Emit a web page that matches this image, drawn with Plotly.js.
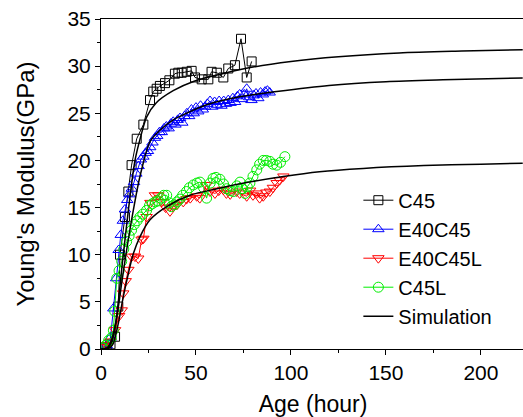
<!DOCTYPE html>
<html>
<head>
<meta charset="utf-8">
<script src="https://cdn.plot.ly/plotly-3.0.1.min.js"></script>
<style>
html,body{margin:0;padding:0;overflow:hidden;background:#fff;}
#chart{width:530px;height:417px;}
</style>
</head>
<body>
<div id="chart"></div>
<script>
// ---- data ----
const c45_t = [1, 3, 5, 7.4, 9.1, 10, 12.6, 14.4, 16.1, 18.8, 22.3, 25.8, 27.5, 29.3, 31, 33.7, 36, 38.9, 40.7, 42.5, 45.1, 47.7, 49.5, 53, 56.5, 58.2, 61, 64.4, 67, 70.5, 73.7, 76.7, 79.3];
const c45_E = [0.1, 0.2, 0.5, 1.3, 4.5, 10.0, 14.0, 16.7, 19.5, 22.3, 23.8, 26.4, 27.3, 27.6, 27.9, 28.2, 28.5, 29.2, 29.3, 29.3, 29.4, 29.5, 28.8, 28.6, 28.6, 29.4, 29.3, 28.8, 29.75, 30.1, 32.9, 28.8, 30.5];

const e40c45_t = [1, 3, 5, 6.5, 8, 9.3, 10.4, 11.5, 12.6, 13.8, 15, 16.2, 17.4, 18.6, 19.8, 21, 22.3, 23.5, 24.7, 25.9, 27.1, 28.4, 29.6, 30.8, 32, 33.2, 34.4, 35.6, 36.8, 38, 39.2, 40.4, 41.6, 42.8, 44, 45.2, 46.4, 47.6, 48.8, 50, 51.2, 52.4, 53.6, 54.8, 56, 57.4, 58.6, 59.8, 61, 62.2, 63.4, 64.6, 65.8, 67, 68.2, 69.4, 70.6, 71.8, 73, 74.2, 75.4, 76.7, 78, 79.2, 80.4, 81.6, 82.8, 84, 85.2, 86.4, 87.6, 88.8];
const e40c45_E = [0.1, 0.4, 1.2, 4.3, 7.5, 10.5, 12.1, 13.6, 14.8, 15.8, 16.4, 17.0, 17.7, 18.6, 19.4, 20.1, 20.4, 20.8, 21.0, 21.4, 21.9, 22.4, 22.6, 23.0, 23.0, 23.4, 23.6, 23.4, 23.9, 24.1, 23.8, 24.3, 24.5, 24.0, 24.7, 25.0, 24.7, 25.4, 25.0, 25.6, 25.2, 25.8, 25.4, 25.7, 26.0, 26.3, 25.7, 26.2, 25.9, 26.3, 25.8, 26.3, 26.0, 26.4, 26.1, 26.6, 26.2, 26.8, 27.0, 26.5, 27.0, 27.6, 26.7, 26.4, 26.9, 27.1, 26.6, 27.2, 27.0, 27.3, 27.4, 27.2];

const e40c45l_t = [1, 3, 5, 7.4, 9.5, 10.9, 11.7, 13, 14.4, 16.1, 17.9, 19.6, 21.4, 22.3, 24, 26, 28.4, 30.2, 32, 34, 36.3, 38, 40, 43.3, 45, 47, 50.4, 52, 55.6, 57.4, 60, 62, 64.4, 66, 68, 71.4, 73, 76.7, 78.5, 80, 81.9, 83.5, 85.4, 87, 88.9, 90.5, 92.5, 94, 96];
const e40c45l_E = [0.2, 0.4, 0.8, 2.0, 3.5, 4.1, 5.9, 7.2, 8.4, 9.8, 9.8, 9.6, 11.6, 11.7, 14.0, 15.5, 16.3, 16.3, 15.6, 15.0, 14.6, 15.1, 15.3, 15.6, 15.9, 16.0, 16.2, 16.0, 17.4, 16.7, 16.5, 16.8, 16.9, 16.5, 16.4, 16.7, 16.5, 16.2, 16.8, 16.3, 16.5, 16.0, 16.2, 16.6, 16.7, 17.1, 17.6, 17.9, 18.3];

const c45l_t = [1, 2.5, 4, 5.5, 6.5, 7.2, 8.3, 9.5, 10.9, 12, 13.5, 14.8, 16.1, 17.5, 19, 20.5, 22, 24, 25.5, 27, 28.5, 30, 31.5, 33, 34.6, 36, 37, 38.5, 40, 41.5, 43, 45, 46.5, 48.6, 50.5, 52.1, 54, 55.6, 57.5, 59, 60.5, 62.6, 64.5, 66.1, 68, 69.6, 71.5, 73.2, 74.5, 75.8, 77, 78.4, 80, 82, 83.5, 85.4, 87, 88.9, 90.5, 92.5, 94.5, 96.8];
const c45l_E = [0.1, 0.4, 0.9, 1.2, 2.0, 4.0, 7.5, 8.3, 9.3, 10.6, 11.4, 12.0, 12.6, 13.2, 13.6, 14.0, 14.3, 14.7, 15.2, 15.4, 15.6, 15.7, 16.0, 16.3, 16.3, 15.5, 15.1, 15.3, 15.6, 15.9, 16.3, 16.7, 17.1, 17.4, 17.6, 17.7, 17.1, 16.0, 17.6, 18.1, 18.2, 18.0, 17.5, 17.0, 16.8, 16.7, 17.3, 17.7, 17.0, 16.5, 17.2, 17.6, 18.3, 19.0, 19.6, 20.0, 20.0, 19.9, 19.6, 19.5, 19.8, 20.4];

const sim1_t = [0, 2, 4, 6.5, 8.6, 11.4, 14.4, 17.9, 21, 24, 29, 38, 49, 64, 80, 100, 125, 157, 190, 222];
const sim1_E = [0, 0.02, 0.2, 1.3, 4.1, 9.4, 14.7, 20.0, 22.6, 24.6, 26.1, 27.4, 28.4, 29.2, 29.9, 30.5, 31.0, 31.4, 31.6, 31.75];
const sim2_t = [0, 3, 5.6, 8.3, 10.9, 13.5, 17, 20.5, 25.8, 31, 38, 45, 55.6, 73, 92.5, 120, 150, 180, 222];
const sim2_E = [0, 0.05, 1.0, 3.4, 7.0, 10.5, 14.7, 18.3, 22.0, 23.2, 24.3, 25.0, 25.9, 26.75, 27.3, 27.95, 28.35, 28.55, 28.75];
const sim3_t = [0, 3, 5, 6.5, 9.1, 11.7, 14.4, 17, 20.5, 25.8, 34.6, 46.8, 61, 78, 96, 115, 138, 170, 200, 222];
const sim3_E = [0, 0, 0.2, 0.6, 2.7, 5.5, 8.0, 10.1, 11.9, 13.7, 15.1, 16.3, 17.0, 17.7, 18.3, 18.8, 19.15, 19.45, 19.6, 19.7];

const names = ['C45', 'E40C45', 'E40C45L', 'C45L', 'Simulation'];
const xTicks = [0, 50, 100, 150, 200];
const yTicks = [0, 5, 10, 15, 20, 25, 30, 35];

function dataTrace(x, y, name, color, symbol, size, rank) {
  return {
    x: x, y: y, name: name, type: 'scatter', mode: 'lines+markers',
    line: {color: color, width: 1},
    marker: {symbol: symbol, size: size, color: color, line: {color: color, width: 1}},
    legendrank: rank
  };
}
function simTrace(x, y, show) {
  return {
    x: x, y: y, name: names[4], type: 'scatter', mode: 'lines',
    line: {color: '#000', width: 1.5, shape: 'spline', smoothing: 0.8},
    legendgroup: 'sim', showlegend: show, legendrank: 5
  };
}

const traces = [
  dataTrace(c45_t, c45_E, names[0], '#000000', 'square-open', 9, 1),
  dataTrace(e40c45_t, e40c45_E, names[1], '#0000ff', 'triangle-up-open', 10, 2),
  dataTrace(e40c45l_t, e40c45l_E, names[2], '#ff0000', 'triangle-down-open', 10, 3),
  dataTrace(c45l_t, c45l_E, names[3], '#00ee00', 'circle-open', 10, 4),
  simTrace(sim1_t, sim1_E, true),
  simTrace(sim2_t, sim2_E, false),
  simTrace(sim3_t, sim3_E, false)
];

const font = 'Liberation Sans, Arial, sans-serif';
const layout = {
  width: 530, height: 417,
  margin: {l: 101, r: 5, t: 19, b: 68},
  paper_bgcolor: '#fff', plot_bgcolor: '#fff',
  font: {family: font, color: '#000'},
  showlegend: true,
  legend: {x: 0.607, y: 0.51, xanchor: 'left', yanchor: 'top', bgcolor: 'rgba(0,0,0,0)',
           font: {size: 20, family: font}, tracegroupgap: 0},
  xaxis: {
    range: [0, 223.2], tickvals: xTicks, ticktext: xTicks.map(String),
    ticks: 'outside', ticklen: 5, tickwidth: 1, tickcolor: '#000',
    showline: true, linecolor: '#000', linewidth: 1, mirror: true,
    showgrid: false, zeroline: false,
    tickfont: {size: 21, family: font},
    minor: {dtick: 25, tick0: 0, ticks: 'outside', ticklen: 3, tickcolor: '#000', tickwidth: 1, showgrid: false},
    title: {text: 'Age (hour)', font: {size: 23, family: font}, standoff: 13}
  },
  yaxis: {
    range: [0, 35], tickvals: yTicks, ticktext: yTicks.map(String),
    ticks: 'outside', ticklen: 5, tickwidth: 1, tickcolor: '#000',
    showline: true, linecolor: '#000', linewidth: 1, mirror: true,
    showgrid: false, zeroline: false,
    tickfont: {size: 21, family: font},
    minor: {dtick: 2.5, tick0: 0, ticks: 'outside', ticklen: 3, tickcolor: '#000', tickwidth: 1, showgrid: false},
    title: {text: "Young's Modulus(GPa)", font: {size: 24, family: font}, standoff: 26}
  }
};

Plotly.newPlot('chart', traces, layout, {displayModeBar: false, staticPlot: true});
</script>
</body>
</html>
